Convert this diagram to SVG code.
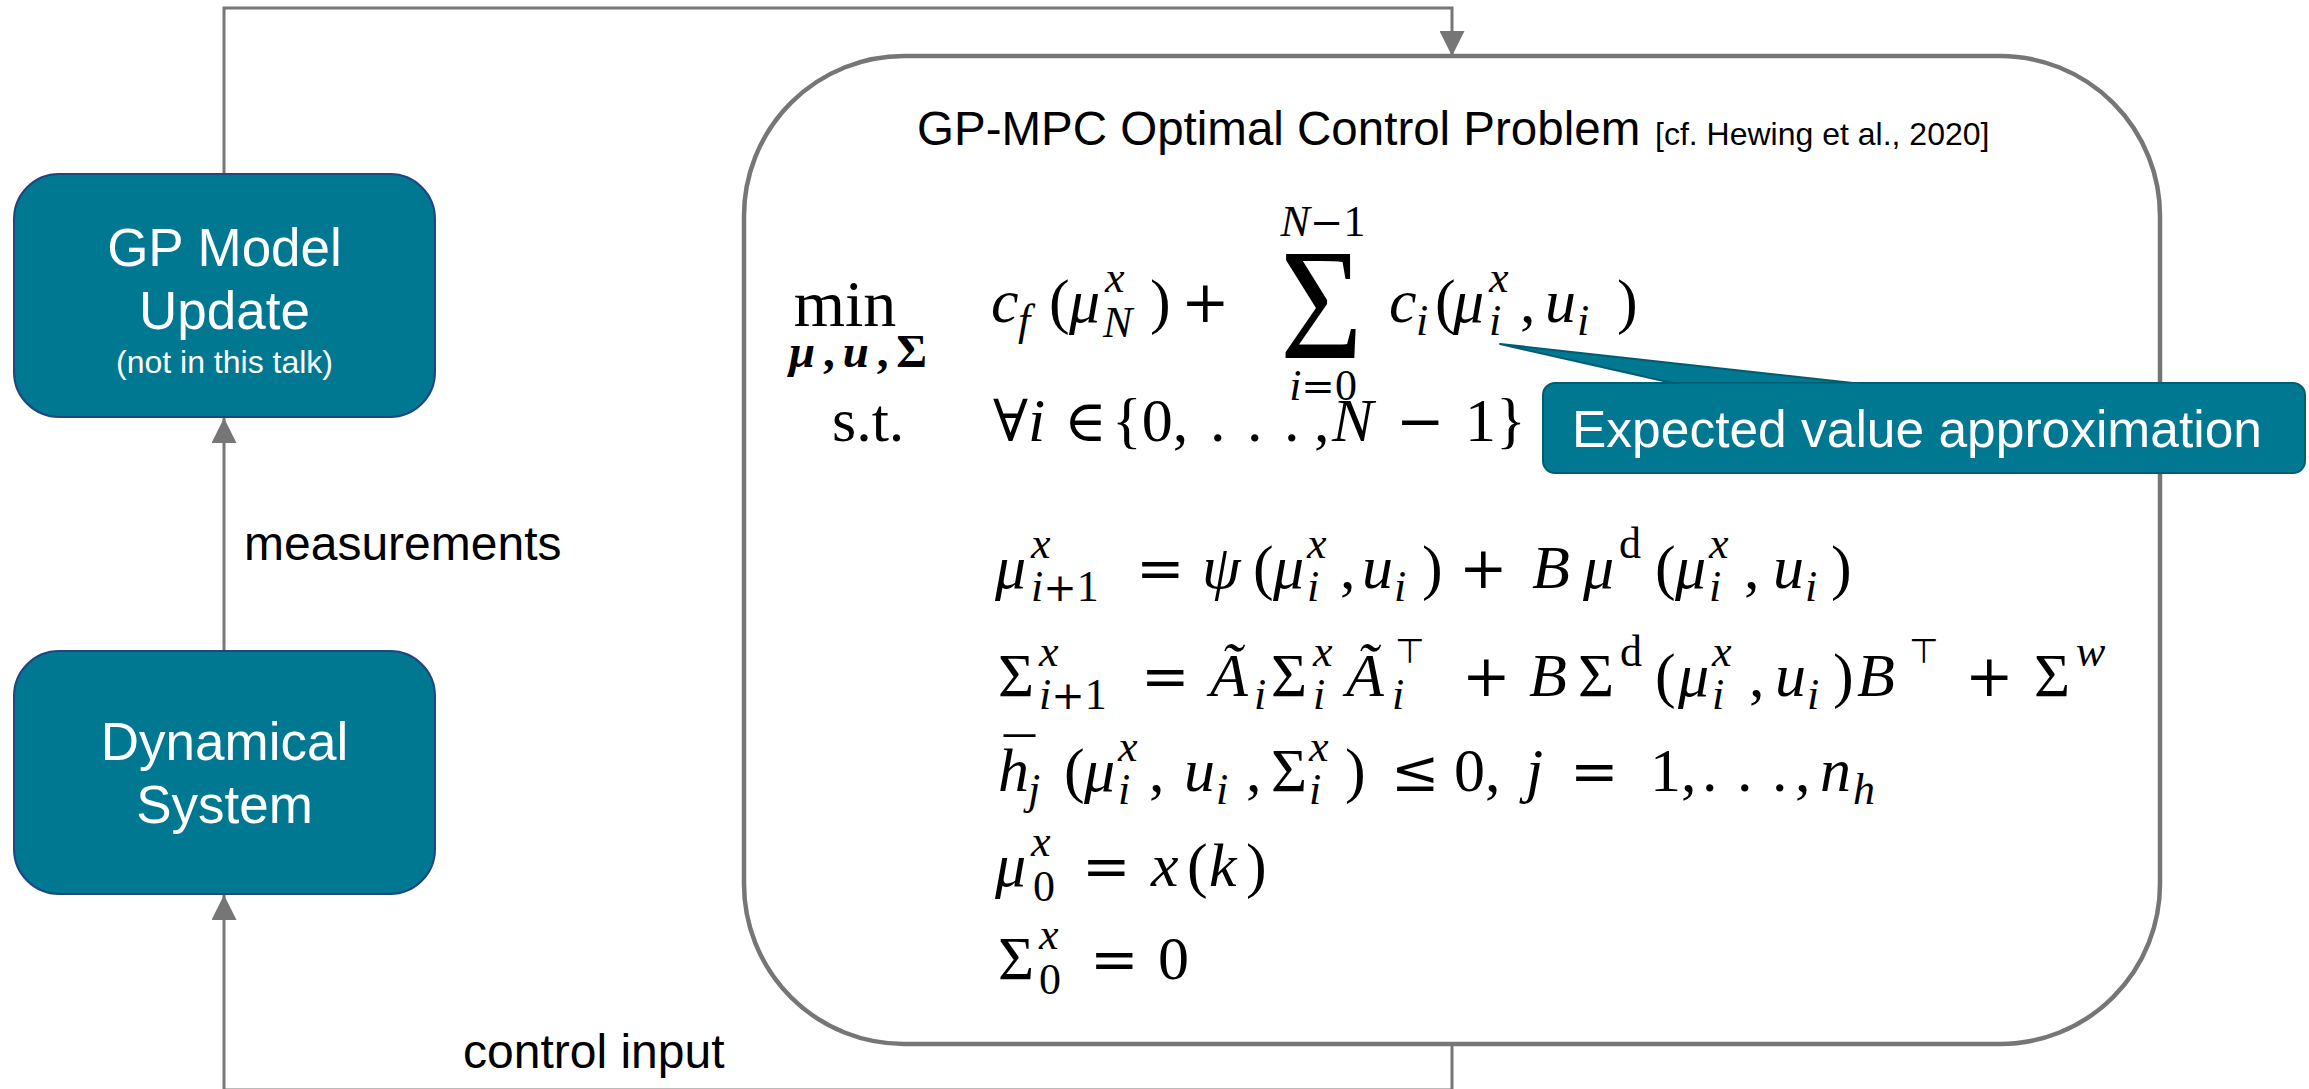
<svg xmlns="http://www.w3.org/2000/svg" width="2309" height="1089" viewBox="0 0 2309 1089">
<defs>
<marker id="ah" markerWidth="25" markerHeight="25" refX="25" refY="12.5" orient="auto" markerUnits="userSpaceOnUse"><path d="M0,0 L25,12.5 L0,25 z" fill="#767676"/></marker>
<style>
.conn{fill:none;stroke:#767676;stroke-width:3}
.node{fill:#007892;stroke:#1f4583;stroke-width:2}
.sans{font-family:"Liberation Sans",Arial,sans-serif}
.nt{font-family:"Liberation Sans",Arial,sans-serif;fill:#fff;text-anchor:middle}
.lbl{font-family:"Liberation Sans",Arial,sans-serif;font-size:48px;fill:#000}
.m{font-family:"Liberation Serif","DejaVu Serif",serif;font-size:62px;fill:#000}
.i{font-style:italic}
.s{font-size:44px}
.op{font-family:"DejaVu Serif","Liberation Serif",serif;font-size:58px}
.sop{font-family:"DejaVu Serif","Liberation Serif",serif;font-size:40px}
.tp{font-family:"DejaVu Sans",sans-serif;font-size:34px}
</style>
</defs>
<rect width="2309" height="1089" fill="#fff"/>
<g id="connectors">
<path class="conn" d="M224,174 V8 H1452 V56" marker-end="url(#ah)"/>
<path class="conn" d="M224,652 V418" marker-end="url(#ah)"/>
<path class="conn" d="M1452,1044 V1090 H224 V895" marker-end="url(#ah)"/>
<text class="lbl" x="244" y="560">measurements</text>
<text class="lbl" x="463" y="1068">control input</text>
</g>
<g id="gp-model-update">
<rect class="node" x="14" y="174" width="421" height="243" rx="45"/>
<text class="nt" x="224.5" y="266" style="font-size:53px">GP Model</text>
<text class="nt" x="224.5" y="329" style="font-size:53px">Update</text>
<text class="nt" x="224.5" y="373" style="font-size:32px">(not in this talk)</text>
</g>
<g id="dynamical-system">
<rect class="node" x="14" y="651" width="421" height="243" rx="45"/>
<text class="nt" x="224.5" y="760" style="font-size:53px">Dynamical</text>
<text class="nt" x="224.5" y="823" style="font-size:53px">System</text>
</g>
<g id="ocp">
<rect x="744" y="56" width="1416" height="988" rx="160" fill="#fff" stroke="#767676" stroke-width="4.5"/>
<text class="sans" style="font-size:47.5px" x="917" y="145">GP-MPC Optimal Control Problem</text>
<text class="sans" style="font-size:32px" x="1655" y="145">[cf. Hewing et al., 2020]</text>
<!-- row 1 -->
<text class="m" x="845" y="326" text-anchor="middle" style="font-size:66px">min</text>
<text class="m" x="858" y="367" text-anchor="middle" style="font-size:47px;font-weight:bold" textLength="138" lengthAdjust="spacing"><tspan class="i">μ</tspan>,<tspan class="i">u</tspan>,Σ</text>
<text class="m" x="1323" y="236" text-anchor="middle" style="font-size:44px"><tspan class="i">N</tspan><tspan class="sop">−</tspan>1</text>
<text class="m" x="1323" y="400" text-anchor="middle" style="font-size:44px"><tspan class="i">i</tspan><tspan class="sop">=</tspan>0</text>
<text class="m" transform="translate(1280,358) scale(0.9,1)" style="font-size:158px">Σ</text>
<text class="m">
<tspan class="i" x="991" y="322">c</tspan><tspan class="i s" x="1018" y="335">f</tspan><tspan x="1049" y="322">(</tspan><tspan class="i" x="1069" y="322">μ</tspan><tspan class="i s" x="1105" y="292">x</tspan><tspan class="i s" x="1103" y="337">N</tspan><tspan x="1150" y="322">)</tspan><tspan class="op" x="1181" y="322">+</tspan><tspan class="i" x="1389" y="322">c</tspan><tspan class="i s" x="1416" y="335">i</tspan><tspan x="1435" y="322">(</tspan><tspan class="i" x="1453" y="322">μ</tspan><tspan class="i s" x="1489" y="292">x</tspan><tspan class="i s" x="1489" y="335">i</tspan><tspan x="1520" y="322">,</tspan><tspan class="i" x="1545" y="322">u</tspan><tspan class="i s" x="1577" y="335">i</tspan><tspan x="1617" y="322">)</tspan>
</text>
<!-- row 2 -->
<text class="m">
<tspan x="832" y="441">s.t.</tspan><tspan class="op" x="993" y="441">∀</tspan><tspan class="i" x="1028" y="441">i</tspan><tspan class="op" x="1064" y="441">∈</tspan><tspan x="1112" y="441">{0,</tspan><tspan x="1210" y="441">.</tspan><tspan x="1247" y="441">.</tspan><tspan x="1284" y="441">.</tspan><tspan x="1314" y="441">,</tspan><tspan class="i" x="1332" y="441">N</tspan><tspan class="op" x="1396" y="441">−</tspan><tspan x="1465" y="441">1}</tspan>
</text>
<!-- row 3 -->
<text class="m">
<tspan class="i" x="995" y="588">μ</tspan><tspan class="i s" x="1031" y="558">x</tspan><tspan class="i s" x="1031" y="601">i</tspan><tspan class="sop" y="601">+</tspan><tspan class="s" y="601">1</tspan><tspan class="op" x="1136" y="588">=</tspan><tspan class="i" x="1202" y="588">ψ</tspan><tspan x="1253" y="588">(</tspan><tspan class="i" x="1273" y="588">μ</tspan><tspan class="i s" x="1307" y="558">x</tspan><tspan class="i s" x="1307" y="601">i</tspan><tspan x="1340" y="588">,</tspan><tspan class="i" x="1362" y="588">u</tspan><tspan class="i s" x="1394" y="601">i</tspan><tspan x="1422" y="588">)</tspan><tspan class="op" x="1459" y="588">+</tspan><tspan class="i" x="1532" y="588">B</tspan><tspan class="i" x="1583" y="588">μ</tspan><tspan class="s" x="1619" y="558">d</tspan><tspan x="1655" y="588">(</tspan><tspan class="i" x="1675" y="588">μ</tspan><tspan class="i s" x="1709" y="558">x</tspan><tspan class="i s" x="1709" y="601">i</tspan><tspan x="1744" y="588">,</tspan><tspan class="i" x="1773" y="588">u</tspan><tspan class="i s" x="1805" y="601">i</tspan><tspan x="1831" y="588">)</tspan>
</text>
<!-- row 4 -->
<text class="m">
<tspan x="998" y="696">Σ</tspan><tspan class="i s" x="1039" y="666">x</tspan><tspan class="i s" x="1039" y="709">i</tspan><tspan class="sop" y="709">+</tspan><tspan class="s" y="709">1</tspan><tspan class="op" x="1141" y="696">=</tspan><tspan class="i" x="1210" y="696">Ã</tspan><tspan class="i s" x="1254" y="709">i</tspan><tspan x="1271" y="696">Σ</tspan><tspan class="i s" x="1313" y="666">x</tspan><tspan class="i s" x="1313" y="709">i</tspan><tspan class="i" x="1346" y="696">Ã</tspan><tspan class="tp" x="1395" y="663">⊤</tspan><tspan class="i s" x="1392" y="709">i</tspan><tspan class="op" x="1462" y="696">+</tspan><tspan class="i" x="1529" y="696">B</tspan><tspan x="1578" y="696">Σ</tspan><tspan class="s" x="1620" y="666">d</tspan><tspan x="1655" y="696">(</tspan><tspan class="i" x="1678" y="696">μ</tspan><tspan class="i s" x="1712" y="666">x</tspan><tspan class="i s" x="1712" y="709">i</tspan><tspan x="1749" y="696">,</tspan><tspan class="i" x="1775" y="696">u</tspan><tspan class="i s" x="1807" y="709">i</tspan><tspan x="1833" y="696">)</tspan><tspan class="i" x="1857" y="696">B</tspan><tspan class="tp" x="1909" y="663">⊤</tspan><tspan class="op" x="1965" y="696">+</tspan><tspan x="2034" y="696">Σ</tspan><tspan class="i s" x="2076" y="666">w</tspan>
</text>
<!-- row 5 -->
<text class="m">
<tspan class="i" x="998" y="791">h</tspan><tspan x="1004" y="781">¯</tspan><tspan class="i s" x="1028" y="804">j</tspan><tspan x="1064" y="791">(</tspan><tspan class="i" x="1084" y="791">μ</tspan><tspan class="i s" x="1118" y="761">x</tspan><tspan class="i s" x="1118" y="804">i</tspan><tspan x="1149" y="791">,</tspan><tspan class="i" x="1184" y="791">u</tspan><tspan class="i s" x="1216" y="804">i</tspan><tspan x="1246" y="791">,</tspan><tspan x="1271" y="791">Σ</tspan><tspan class="i s" x="1309" y="761">x</tspan><tspan class="i s" x="1309" y="804">i</tspan><tspan x="1345" y="791">)</tspan><tspan class="op" x="1391" y="791">≤</tspan><tspan x="1454" y="791">0,</tspan><tspan class="i" x="1526" y="791">j</tspan><tspan class="op" x="1570" y="791">=</tspan><tspan x="1650" y="791">1,</tspan><tspan x="1702" y="791">.</tspan><tspan x="1737" y="791">.</tspan><tspan x="1772" y="791">.</tspan><tspan x="1795" y="791">,</tspan><tspan class="i" x="1820" y="791">n</tspan><tspan class="i s" x="1853" y="804">h</tspan>
</text>
<!-- row 6 -->
<text class="m">
<tspan class="i" x="995" y="886">μ</tspan><tspan class="i s" x="1031" y="856">x</tspan><tspan class="s" x="1033" y="901">0</tspan><tspan class="op" x="1082" y="886">=</tspan><tspan class="i" x="1151" y="886">x</tspan><tspan x="1187" y="886">(</tspan><tspan class="i" x="1209" y="886">k</tspan><tspan x="1246" y="886">)</tspan>
</text>
<!-- row 7 -->
<text class="m">
<tspan x="998" y="979">Σ</tspan><tspan class="i s" x="1039" y="949">x</tspan><tspan class="s" x="1039" y="994">0</tspan><tspan class="op" x="1090" y="979">=</tspan><tspan x="1158" y="979">0</tspan>
</text>
</g>
<g id="callout">
<path d="M1500,344 L1677,384 L1862,384 Z" fill="#007892" stroke="#005c70" stroke-width="2" stroke-linejoin="round"/>
<rect x="1543" y="383" width="762" height="90" rx="12" fill="#007892" stroke="#005c70" stroke-width="2"/>
<path d="M1679,385 L1860,385" stroke="#007892" stroke-width="3"/>
<text class="sans" style="font-size:51.5px" fill="#fff" x="1572" y="447">Expected value approximation</text>
</g>
</svg>
